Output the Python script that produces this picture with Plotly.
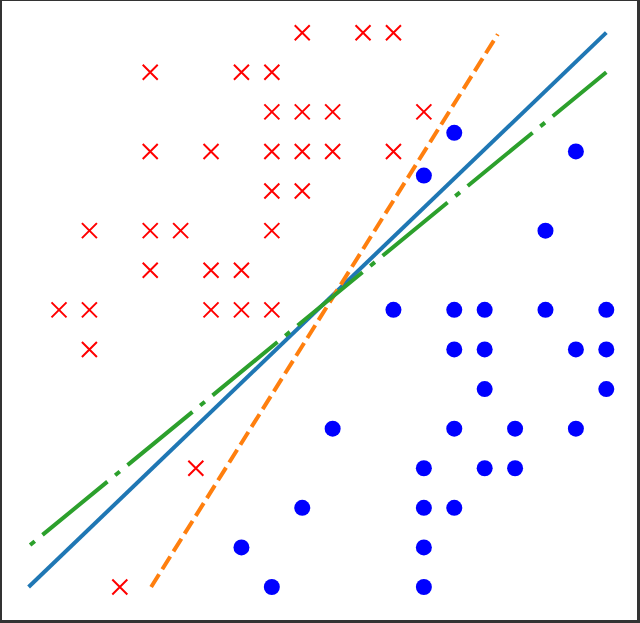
import plotly.graph_objects as go

# class A (red crosses)
red_x = [9, 11, 12,
         4, 7, 8,
         8, 9, 10, 13,
         4, 6, 8, 9, 10, 12,
         8, 9,
         2, 4, 5, 8,
         4, 6, 7,
         1, 2, 6, 7, 8,
         2,
         5.5,
         3]
red_y = [14, 14, 14,
         13, 13, 13,
         12, 12, 12, 12,
         11, 11, 11, 11, 11, 11,
         10, 10,
         9, 9, 9, 9,
         8, 8, 8,
         7, 7, 7, 7, 7,
         6,
         3,
         0]

# class B (blue dots)
blue_x = [14, 18, 13, 17,
          12, 14, 15, 17, 19,
          14, 15, 18, 19,
          15, 19,
          10, 14, 16, 18,
          13, 15, 16,
          9, 13, 14,
          7, 13,
          8, 13]
blue_y = [11.47, 11, 10.39, 9,
          7, 7, 7, 7, 7,
          6, 6, 6, 6,
          5, 5,
          4, 4, 4, 4,
          3, 3, 3,
          2, 2, 2,
          1, 1,
          0, 0]

# decision boundaries
line_solid_x = [0, 19]
line_solid_y = [0, 14]
line_dash_x = [4.03, 15.43]
line_dash_y = [0, 13.96]
line_dashdot_x = [0.05, 19]
line_dashdot_y = [1.06, 13.0]

fig = go.Figure()

fig.add_trace(go.Scatter(x=red_x, y=red_y, mode='markers',
                         marker=dict(symbol='x-thin', size=15, color='#ff0000',
                                     line=dict(width=2, color='#ff0000'))))
fig.add_trace(go.Scatter(x=blue_x, y=blue_y, mode='markers',
                         marker=dict(symbol='circle', size=16, color='#0000ff')))

fig.add_trace(go.Scatter(x=line_solid_x, y=line_solid_y, mode='lines',
                         line=dict(color='#1f77b4', width=4)))
fig.add_trace(go.Scatter(x=line_dash_x, y=line_dash_y, mode='lines',
                         line=dict(color='#ff7f0e', width=4, dash='15px,6px')))
fig.add_trace(go.Scatter(x=line_dashdot_x, y=line_dashdot_y, mode='lines',
                         line=dict(color='#2ca02c', width=4,
                                   dash='6px,10px,84px,10px')))

fig.update_xaxes(range=[-0.875, 20.01], showgrid=False, zeroline=False,
                 showticklabels=False, ticks='')
fig.update_yaxes(range=[-0.833, 14.80], showgrid=False, zeroline=False,
                 showticklabels=False, ticks='')

fig.update_layout(width=640, height=623, showlegend=False,
                  margin=dict(l=2, r=3, t=1, b=3),
                  paper_bgcolor='#333333', plot_bgcolor='white')

# drop the page's default body margin so the figure sits at (0, 0)
fig.write_html("out.html", config={'displayModeBar': False},
               post_script="document.body.style.margin='0px';")
